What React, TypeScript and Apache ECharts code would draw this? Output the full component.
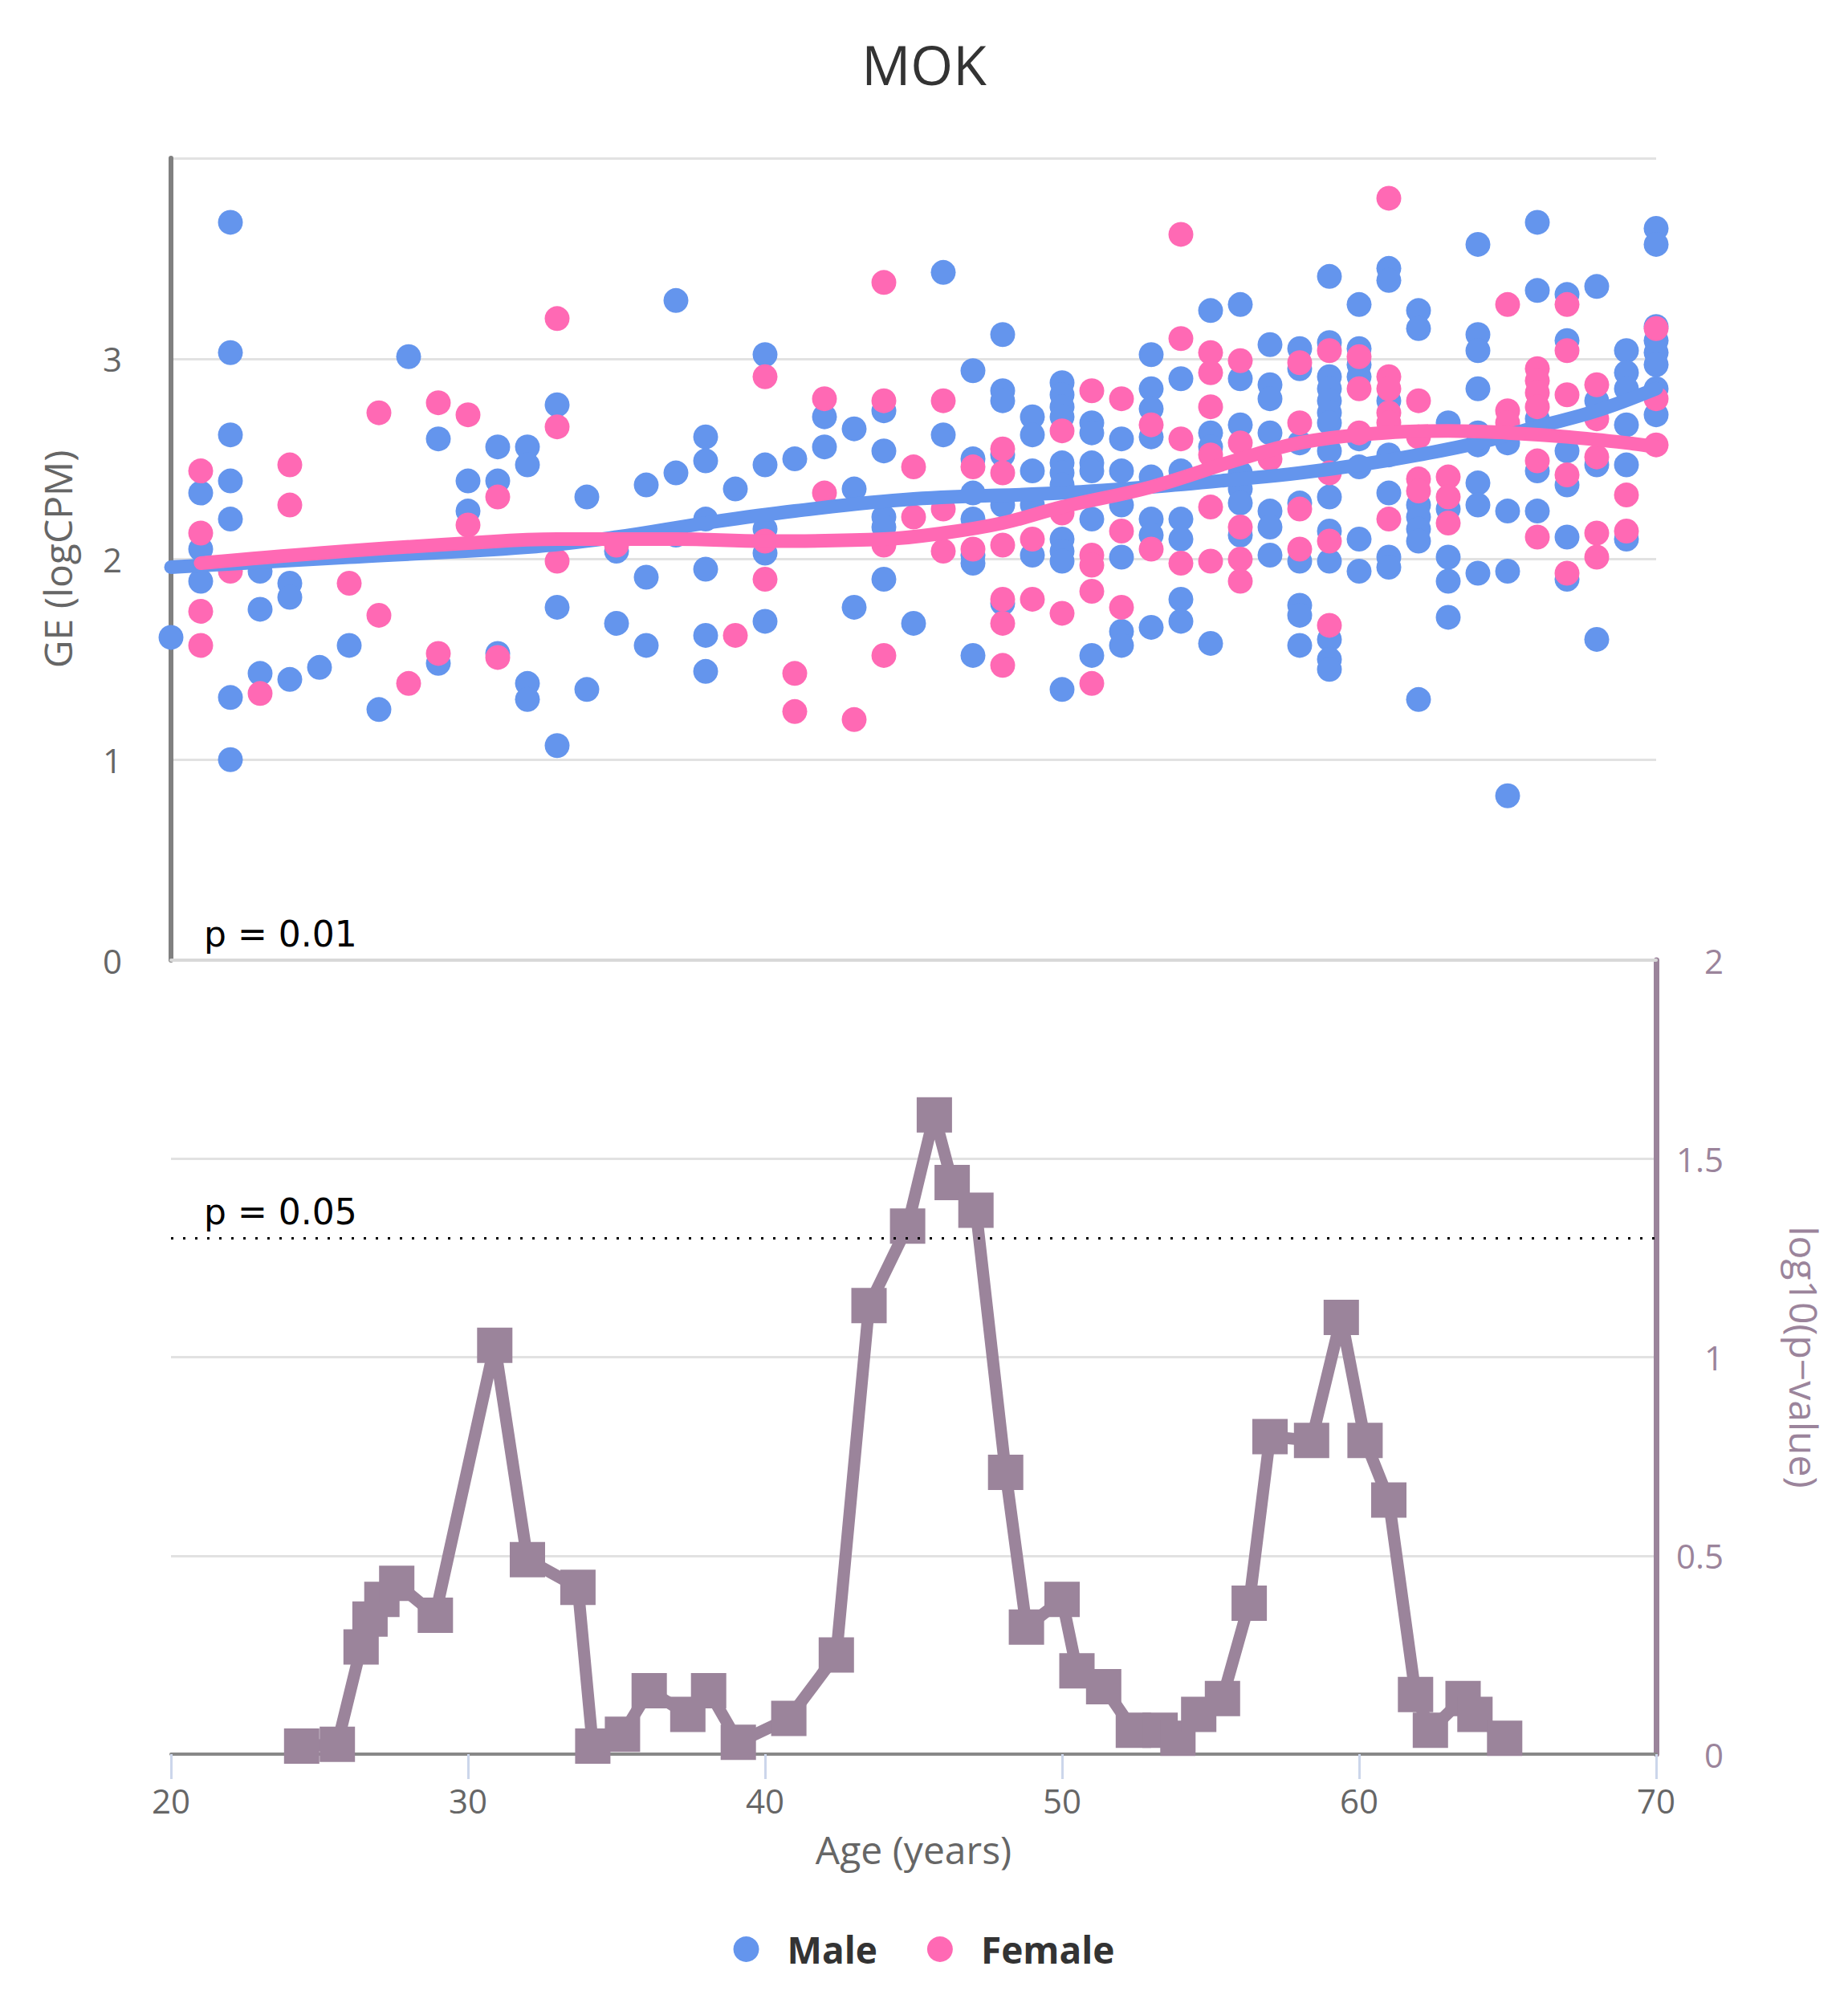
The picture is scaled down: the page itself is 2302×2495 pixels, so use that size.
import React, { useEffect, useRef } from "react";
import * as echarts from "echarts";

// scatter points: [age, GE logCPM]
const maleData = [
  [20, 1.61],
  [21, 2.33], [21, 2.05], [21, 1.89],
  [22, 3.68], [22, 3.03], [22, 2.62], [22, 2.39], [22, 2.2], [22, 1.31], [22, 1.0],
  [23, 1.94], [23, 1.75], [23, 1.43],
  [24, 1.88], [24, 1.81], [24, 1.4],
  [25, 1.46], [26, 1.57], [27, 1.25], [28, 3.01],
  [29, 2.6], [29, 1.48],
  [30, 2.39], [30, 2.24],
  [31, 2.56], [31, 2.39], [31, 1.53],
  [32, 2.56], [32, 2.47], [32, 1.38], [32, 1.3],
  [33, 2.77], [33, 1.76], [33, 1.07],
  [34, 2.31], [34, 1.35],
  [35, 2.04], [35, 1.68],
  [36, 2.37], [36, 1.91], [36, 1.57],
  [37, 3.29], [37, 2.43], [37, 2.12],
  [38, 2.61], [38, 2.49], [38, 2.2], [38, 1.95], [38, 1.62], [38, 1.44],
  [39, 2.35],
  [40, 3.02], [40, 2.47], [40, 2.15], [40, 2.03], [40, 1.69],
  [41, 2.5],
  [42, 2.71], [42, 2.56],
  [43, 2.65], [43, 2.35], [43, 1.76],
  [44, 2.74], [44, 2.54], [44, 2.21], [44, 2.16], [44, 1.9],
  [45, 1.68],
  [46, 3.43], [46, 2.62],
  [47, 2.94], [47, 2.5], [47, 2.33], [47, 2.2], [47, 2.02], [47, 1.98], [47, 1.52],
  [48, 3.12], [48, 2.84], [48, 2.79], [48, 2.52], [48, 2.27], [48, 1.78],
  [49, 2.71], [49, 2.62], [49, 2.44], [49, 2.27], [49, 2.02],
  [50, 2.88], [50, 2.82], [50, 2.76], [50, 2.71], [50, 2.48], [50, 2.43], [50, 2.37], [50, 2.1], [50, 2.04], [50, 1.99], [50, 1.35],
  [51, 2.68], [51, 2.63], [51, 2.48], [51, 2.44], [51, 2.2], [51, 1.52],
  [52, 2.6], [52, 2.44], [52, 2.27], [52, 2.01], [52, 1.64], [52, 1.57],
  [53, 3.02], [53, 2.85], [53, 2.75], [53, 2.61], [53, 2.41], [53, 2.2], [53, 2.12], [53, 1.66],
  [54, 2.9], [54, 2.44], [54, 2.2], [54, 2.1], [54, 1.8], [54, 1.69],
  [55, 3.24], [55, 2.63], [55, 2.56], [55, 1.58],
  [56, 3.27], [56, 2.9], [56, 2.67], [56, 2.43], [56, 2.35], [56, 2.28], [56, 2.12],
  [57, 3.07], [57, 2.87], [57, 2.8], [57, 2.63], [57, 2.24], [57, 2.16], [57, 2.02],
  [58, 3.05], [58, 2.95], [58, 2.58], [58, 2.28], [58, 1.99], [58, 1.77], [58, 1.72], [58, 1.57],
  [59, 3.41], [59, 3.08], [59, 2.91], [59, 2.85], [59, 2.79], [59, 2.73], [59, 2.68], [59, 2.54], [59, 2.31], [59, 2.14], [59, 1.99], [59, 1.6], [59, 1.5], [59, 1.45],
  [60, 3.27], [60, 3.05], [60, 2.97], [60, 2.91], [60, 2.6], [60, 2.46], [60, 2.1], [60, 1.94],
  [61, 3.45], [61, 3.39], [61, 2.79], [61, 2.52], [61, 2.33], [61, 2.01], [61, 1.96],
  [62, 3.24], [62, 3.15], [62, 2.27], [62, 2.21], [62, 2.15], [62, 2.09], [62, 1.3],
  [63, 2.68], [63, 2.25], [63, 2.01], [63, 1.89], [63, 1.71],
  [64, 3.57], [64, 3.12], [64, 3.04], [64, 2.85], [64, 2.63], [64, 2.57], [64, 2.38], [64, 2.27], [64, 1.93],
  [65, 2.58], [65, 2.24], [65, 1.94], [65, 0.82],
  [66, 3.68], [66, 3.34], [66, 2.7], [66, 2.44], [66, 2.24],
  [67, 3.32], [67, 3.09], [67, 2.54], [67, 2.37], [67, 2.11], [67, 1.9],
  [68, 3.36], [68, 2.79], [68, 2.47], [68, 1.6],
  [69, 3.04], [69, 2.93], [69, 2.85], [69, 2.67], [69, 2.47], [69, 2.1],
  [70, 3.65], [70, 3.57], [70, 3.16], [70, 3.09], [70, 3.03], [70, 2.97], [70, 2.85], [70, 2.72],
];

const femaleData = [
  [21, 2.44], [21, 2.13], [21, 1.74], [21, 1.57],
  [22, 1.94], [23, 1.33],
  [24, 2.47], [24, 2.27],
  [26, 1.88],
  [27, 2.73], [27, 1.72],
  [28, 1.38],
  [29, 2.78], [29, 1.53],
  [30, 2.72], [30, 2.17],
  [31, 2.31], [31, 1.51],
  [33, 3.2], [33, 2.66], [33, 1.99],
  [35, 2.07], [39, 1.62],
  [40, 2.91], [40, 2.09], [40, 1.9],
  [41, 1.43], [41, 1.24],
  [42, 2.8], [42, 2.33],
  [43, 1.2],
  [44, 3.38], [44, 2.79], [44, 2.07], [44, 1.52],
  [45, 2.46], [45, 2.21],
  [46, 2.79], [46, 2.25], [46, 2.04],
  [47, 2.46], [47, 2.05],
  [48, 2.55], [48, 2.43], [48, 2.07], [48, 1.8], [48, 1.68], [48, 1.47],
  [49, 2.1], [49, 1.8],
  [50, 2.64], [50, 2.23], [50, 1.73],
  [51, 2.84], [51, 2.02], [51, 1.97], [51, 1.84], [51, 1.38],
  [52, 2.8], [52, 2.14], [52, 1.76],
  [53, 2.67], [53, 2.05],
  [54, 3.62], [54, 3.1], [54, 2.6], [54, 1.98],
  [55, 3.03], [55, 2.93], [55, 2.76], [55, 2.52], [55, 2.26], [55, 1.99],
  [56, 2.99], [56, 2.58], [56, 2.16], [56, 2.0], [56, 1.89],
  [57, 2.5],
  [58, 2.98], [58, 2.68], [58, 2.25], [58, 2.05],
  [59, 3.04], [59, 2.43], [59, 2.09], [59, 1.67],
  [60, 3.01], [60, 2.85], [60, 2.63],
  [61, 3.8], [61, 2.91], [61, 2.85], [61, 2.73], [61, 2.68], [61, 2.2],
  [62, 2.79], [62, 2.61], [62, 2.4], [62, 2.34],
  [63, 2.41], [63, 2.31], [63, 2.18],
  [65, 3.27], [65, 2.74], [65, 2.68],
  [66, 2.95], [66, 2.89], [66, 2.83], [66, 2.76], [66, 2.49], [66, 2.11],
  [67, 3.27], [67, 3.04], [67, 2.82], [67, 2.42], [67, 1.93],
  [68, 2.87], [68, 2.7], [68, 2.51], [68, 2.13], [68, 2.01],
  [69, 2.32], [69, 2.14],
  [70, 3.15], [70, 2.8], [70, 2.57],
];

// smoothed trends
const maleTrend = [
  [20, 1.96], [26, 2.01], [32, 2.06], [35, 2.11], [38, 2.18], [41, 2.24], [45, 2.3],
  [50, 2.33], [53, 2.36], [56, 2.4], [58, 2.43], [60, 2.47], [62, 2.52], [64, 2.58],
  [66, 2.66], [68, 2.74], [70, 2.85],
];
const femaleTrend = [
  [21, 1.98], [25, 2.03], [30, 2.08], [33, 2.1], [37, 2.1], [40, 2.09], [44, 2.1],
  [46, 2.13], [48, 2.18], [50, 2.26], [53, 2.36], [56, 2.5], [58, 2.58], [60, 2.62],
  [63, 2.64], [65, 2.63], [67, 2.61], [69, 2.58], [70, 2.56],
];

// -log10(p) along age
const pValueData = [
  [24.4, 0.02], [25.6, 0.025], [26.4, 0.27], [26.7, 0.34], [27.1, 0.39], [27.6, 0.43],
  [28.9, 0.35], [30.9, 1.03], [32.0, 0.49], [33.7, 0.42], [34.2, 0.02], [35.2, 0.05],
  [36.1, 0.16], [37.4, 0.1], [38.1, 0.16], [39.1, 0.03], [40.8, 0.09], [42.4, 0.25],
  [43.5, 1.13], [44.8, 1.33], [45.7, 1.61], [46.3, 1.44], [47.1, 1.37], [48.1, 0.71],
  [48.8, 0.32], [50.0, 0.39], [50.5, 0.21], [51.4, 0.17], [52.4, 0.06], [53.3, 0.06],
  [53.9, 0.04], [54.6, 0.1], [55.4, 0.14], [56.3, 0.38], [57.0, 0.8], [58.4, 0.79],
  [59.4, 1.1], [60.2, 0.79], [61.0, 0.64], [61.9, 0.15], [62.4, 0.06], [63.5, 0.14],
  [63.9, 0.1], [64.9, 0.04],
];

const pThresholds = [
  { value: 2, label: "p = 0.01", drawLine: false },
  { value: 1.301, label: "p = 0.05", drawLine: true },
];

const BLUE = "#6495ED";
const PINK = "#FF69B4";
const PURPLE = "#9b849b";
const FONT = "Open Sans";

const App = () => {
  const chartRef = useRef(null);

  useEffect(() => {
    const chart = echarts.init(chartRef.current, null, { renderer: "svg" });

    const option = {
      animation: false,
      backgroundColor: "#ffffff",
      textStyle: { fontFamily: FONT },
      title: {
        text: "MOK",
        left: "center",
        top: 45,
        padding: 0,
        textStyle: { fontFamily: FONT, fontSize: 68, fontWeight: "normal", color: "#333333" },
      },
      legend: {
        data: ["Male", "Female"],
        icon: "circle",
        left: "center",
        top: 2405,
        padding: 0,
        itemWidth: 92,
        itemHeight: 32,
        itemGap: 62,
        textStyle: { fontFamily: FONT, fontSize: 46, fontWeight: "bold", color: "#333333" },
      },
      grid: [
        { left: 213, top: 197, width: 1850, height: 999 },
        { left: 213, top: 1196, width: 1850, height: 989 },
      ],
      xAxis: [
        {
          gridIndex: 0,
          type: "value",
          min: 20,
          max: 70,
          interval: 10,
          axisLabel: { show: false },
          axisTick: { show: false },
          splitLine: { show: false },
          axisLine: { show: true, onZero: false, lineStyle: { color: "#d8d8d8", width: 4 } },
        },
        {
          gridIndex: 1,
          type: "value",
          min: 20,
          max: 70,
          interval: 10,
          name: "Age (years)",
          nameLocation: "middle",
          nameGap: 94,
          nameMoveOverlap: false,
          nameTextStyle: { fontFamily: FONT, fontSize: 48, color: "#666666" },
          axisLabel: { fontFamily: FONT, fontSize: 42, color: "#666666", margin: 36 },
          axisTick: { show: true, length: 31, lineStyle: { color: "#ccd6eb", width: 3 } },
          splitLine: { show: false },
          axisLine: { show: true, onZero: false, lineStyle: { color: "#888888", width: 4 } },
        },
      ],
      yAxis: [
        {
          gridIndex: 0,
          type: "value",
          min: 0,
          max: 4,
          interval: 1,
          position: "left",
          name: "GE (logCPM)",
          nameLocation: "middle",
          nameRotate: 90,
          nameGap: 118,
          nameTextStyle: { fontFamily: FONT, fontSize: 48, color: "#666666" },
          axisLabel: {
            fontFamily: FONT,
            fontSize: 42,
            color: "#666666",
            margin: 61,
            showMaxLabel: false,
          },
          axisTick: { show: false },
          axisLine: { show: true, lineStyle: { color: "#808080", width: 6 } },
          splitLine: { show: true, lineStyle: { color: "#e2e2e2", width: 3 } },
        },
        {
          gridIndex: 1,
          type: "value",
          min: 0,
          max: 2,
          interval: 0.5,
          position: "right",
          name: "log10(p−value)",
          nameLocation: "middle",
          nameRotate: -90,
          nameGap: 160,
          nameTextStyle: { fontFamily: FONT, fontSize: 48, color: PURPLE },
          axisLabel: {
            fontFamily: FONT,
            fontSize: 42,
            color: PURPLE,
            align: "right",
            margin: 84,
          },
          axisTick: { show: false },
          axisLine: { show: true, lineStyle: { color: PURPLE, width: 7 } },
          splitLine: { show: true, lineStyle: { color: "#e2e2e2", width: 3 } },
        },
      ],
      series: [
        {
          name: "Male",
          type: "scatter",
          xAxisIndex: 0,
          yAxisIndex: 0,
          data: maleData,
          symbol: "circle",
          symbolSize: 31,
          clip: false,
          itemStyle: { color: BLUE, opacity: 1 },
        },
        {
          name: "Female",
          type: "scatter",
          xAxisIndex: 0,
          yAxisIndex: 0,
          data: femaleData,
          symbol: "circle",
          symbolSize: 31,
          clip: false,
          itemStyle: { color: PINK, opacity: 1 },
        },
        {
          name: "Male",
          type: "line",
          xAxisIndex: 0,
          yAxisIndex: 0,
          data: maleTrend,
          smooth: 0.4,
          showSymbol: false,
          itemStyle: { color: BLUE },
          lineStyle: { color: BLUE, width: 17, cap: "round" },
        },
        {
          name: "Female",
          type: "line",
          xAxisIndex: 0,
          yAxisIndex: 0,
          data: femaleTrend,
          smooth: 0.4,
          showSymbol: false,
          itemStyle: { color: PINK },
          lineStyle: { color: PINK, width: 17, cap: "round" },
        },
        {
          name: "p-value",
          type: "line",
          xAxisIndex: 1,
          yAxisIndex: 1,
          data: pValueData,
          symbol: "rect",
          symbolSize: 44,
          showAllSymbol: true,
          clip: false,
          itemStyle: { color: PURPLE },
          lineStyle: { color: PURPLE, width: 15 },
          markLine: {
            silent: true,
            symbol: ["none", "none"],
            data: pThresholds.map((t) => ({
              yAxis: t.value,
              lineStyle: {
                color: t.drawLine ? "#000000" : "rgba(0,0,0,0)",
                width: 3,
                type: [3, 12],
              },
              label: {
                show: true,
                formatter: t.label,
                position: "insideStartTop",
                distance: [41, 11],
                fontFamily: "DejaVu Sans",
                fontSize: 44,
                color: "#000000",
              },
            })),
          },
        },
      ],
    };

    chart.setOption(option);
    return () => {
      chart.dispose();
    };
  }, []);

  return (
    <div
      ref={chartRef}
      style={{ position: "absolute", left: 0, top: 0, width: "2302px", height: "2495px" }}
    />
  );
};

export default App;
